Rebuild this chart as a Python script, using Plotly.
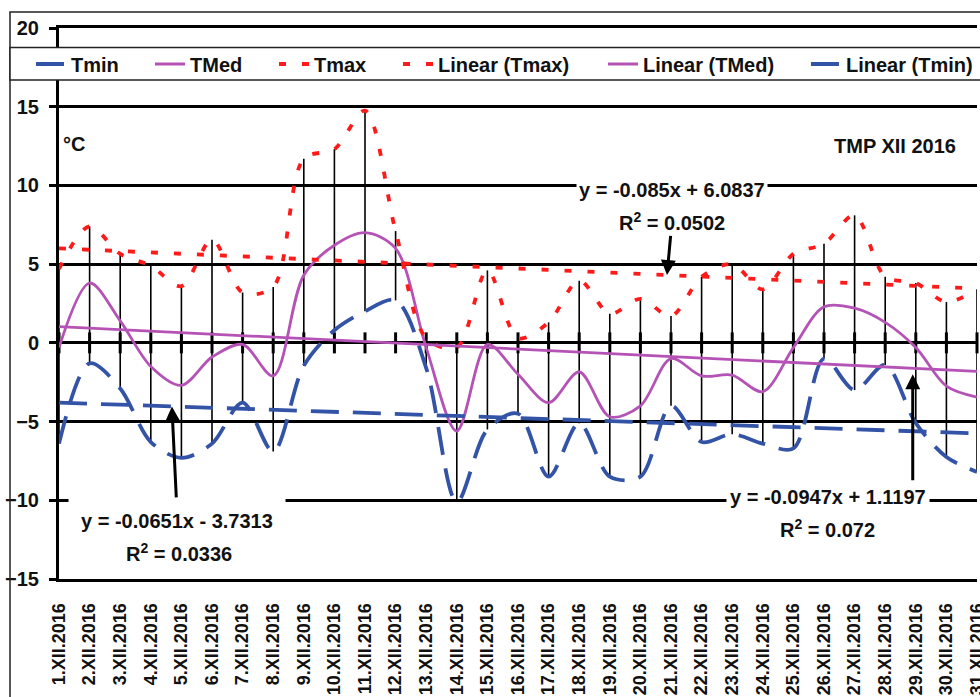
import plotly.graph_objects as go

# ---- data: daily temperatures, December 2016 (°C) ----
days = list(range(1, 32))
day_labels = [
    "1.XII.2016", "2.XII.2016", "3.XII.2016", "4.XII.2016", "5.XII.2016",
    "6.XII.2016", "7.XII.2016", "8.XII.2016", "9.XII.2016", "10.XII.2016",
    "11.XII.2016", "12.XII.2016", "13.XII.2016", "14.XII.2016", "15.XII.2016",
    "16.XII.2016", "17.XII.2016", "18.XII.2016", "19.XII.2016", "20.XII.2016",
    "21.XII.2016", "22.XII.2016", "23.XII.2016", "24.XII.2016", "25.XII.2016",
    "26.XII.2016", "27.XII.2016", "28.XII.2016", "29.XII.2016", "30.XII.2016",
    "31.XII.2016",
]
tmax = [4.7, 7.4, 5.65, 4.9, 3.6, 6.55, 3.2, 3.55, 11.7, 12.3, 14.75, 7.1, 0.3,
        -0.3, 4.6, 0.3, 1.3, 3.95, 1.85, 2.8, 1.7, 4.2, 5.0, 3.4, 5.65, 6.3,
        8.1, 4.2, 3.8, 2.6, 3.4]
tmed = [-0.3, 3.8, 1.4, -1.5, -2.7, -0.9, -0.1, -2.1, 4.3, 6.2, 7.0, 6.0, -0.3,
        -5.6, -0.1, -2.0, -3.8, -1.85, -4.7, -4.0, -1.0, -2.1, -2.05, -3.1,
        -0.3, 2.3, 2.2, 1.3, -0.3, -2.75, -3.45]
tmin = [-6.4, -1.3, -2.9, -6.3, -7.3, -6.4, -3.8, -6.9, -1.45, 0.8, 2.0, 2.7,
        -1.6, -10.1, -5.5, -4.5, -8.5, -5.1, -8.5, -8.5, -4.0, -6.3, -5.8,
        -6.4, -6.7, -1.0, -3.0, -1.4, -5.1, -7.25, -8.2]

# linear trend coefficients (slope, intercept) and R²
tmax_fit = (-0.085, 6.0837)
tmed_fit = (-0.0947, 1.1197)
tmin_fit = (-0.0651, -3.7313)
tmax_r2 = "0.0502"
tmed_r2 = "0.072"
tmin_r2 = "0.0336"

BLUE = "#3353a6"
MAGENTA = "#b552b5"
RED = "#ff1a1a"
FONT = "Liberation Sans, Arial, sans-serif"


def trend(fit, x):
    return fit[0] * x + fit[1]


def equation(fit):
    sign = "+" if fit[1] >= 0 else "-"
    return f"y = {fit[0]}x {sign} {abs(fit[1])}"


fig = go.Figure()

# daily high-low bars
hl_x, hl_y = [], []
for d, lo, hi in zip(days, tmin, tmax):
    hl_x += [d, d, None]
    hl_y += [lo, hi, None]
fig.add_trace(go.Scatter(x=hl_x, y=hl_y, mode="lines",
                         line=dict(color="black", width=1.6),
                         showlegend=False, hoverinfo="skip"))

# category tick marks crossing the 0 °C line
fig.add_trace(go.Scatter(x=days, y=[0] * len(days), mode="markers",
                         marker=dict(symbol="line-ns", size=15,
                                     line=dict(color="black", width=3)),
                         showlegend=False, hoverinfo="skip", cliponaxis=False))

fig.add_trace(go.Scatter(x=days, y=tmin, name="Tmin", mode="lines",
                         line=dict(color=BLUE, width=3.8, dash="28px,14px",
                                   shape="spline", smoothing=0.9),
                         legend="legend"))
fig.add_trace(go.Scatter(x=days, y=tmed, name="TMed", mode="lines",
                         line=dict(color=MAGENTA, width=2.8,
                                   shape="spline", smoothing=0.9),
                         legend="legend2"))
fig.add_trace(go.Scatter(x=days, y=tmax, name="Tmax", mode="lines",
                         line=dict(color=RED, width=3.8, dash="7px,16px",
                                   shape="spline", smoothing=0.9),
                         legend="legend3"))

trend_x = [days[0], days[-1]]
fig.add_trace(go.Scatter(x=trend_x, y=[trend(tmax_fit, v) for v in trend_x],
                         name="Linear (Tmax)", mode="lines",
                         line=dict(color=RED, width=3.8, dash="7px,16px"),
                         legend="legend4"))
fig.add_trace(go.Scatter(x=trend_x, y=[trend(tmed_fit, v) for v in trend_x],
                         name="Linear (TMed)", mode="lines",
                         line=dict(color=MAGENTA, width=2.8),
                         legend="legend5"))
fig.add_trace(go.Scatter(x=trend_x, y=[trend(tmin_fit, v) for v in trend_x],
                         name="Linear (Tmin)", mode="lines",
                         line=dict(color=BLUE, width=3.8, dash="28px,14px"),
                         legend="legend6"))

# ---- layout ----
PLOT_L, PLOT_W, PLOT_T, PLOT_H = 59, 918, 28, 551


def px_x(p):
    return (p - PLOT_L) / PLOT_W


def px_y(p):
    return 1 - (p - PLOT_T) / PLOT_H


legend_style = dict(orientation="h", yanchor="middle", y=px_y(64),
                    xanchor="left", bgcolor="rgba(0,0,0,0)",
                    font=dict(size=20, family=FONT, color="#111", weight="bold"),
                    itemclick=False)
legend_lefts = [31, 150, 274, 398, 603, 806]
legends = {}
for i, left in enumerate(legend_lefts):
    key = "legend" if i == 0 else f"legend{i + 1}"
    legends[key] = dict(legend_style, x=px_x(left))

fig.update_layout(
    width=980, height=697,
    margin=dict(l=PLOT_L, r=980 - PLOT_L - PLOT_W, t=PLOT_T, b=697 - PLOT_T - PLOT_H,
                autoexpand=False),
    paper_bgcolor="white", plot_bgcolor="white",
    font=dict(family=FONT, size=20, color="#111", weight="bold"),
    xaxis=dict(range=[1, 31], tickmode="array", tickvals=days,
               ticktext=day_labels, tickangle=-90,
               tickfont=dict(size=18, family=FONT, color="#111", weight="bold"),
               showgrid=False, zeroline=False, showline=True, mirror=True,
               linecolor="black", linewidth=3, ticks="",
               ticklabelstandoff=14, ticklabeloverflow="allow",
               automargin=False),
    yaxis=dict(range=[-15, 20], tick0=0, dtick=5, showgrid=True,
               gridcolor="black", gridwidth=3, zeroline=True,
               zerolinecolor="black", zerolinewidth=3, showline=True,
               linecolor="black", linewidth=3, ticks="outside", ticklen=7,
               tickwidth=3, tickcolor="black", ticklabelstandoff=6,
               automargin=False),
    **legends,
)

# outer frame and the legend band
fig.add_shape(type="rect", xref="paper", yref="paper",
              x0=px_x(10), x1=1.2, y0=-0.5, y1=px_y(12),
              line=dict(color="#222", width=1.5), fillcolor="rgba(0,0,0,0)",
              layer="above")
fig.add_shape(type="rect", xref="paper", yref="paper",
              x0=px_x(10), x1=1.2, y0=px_y(80), y1=px_y(47.5),
              line=dict(color="#222", width=1.5), fillcolor="white",
              layer="above")

label_font = dict(size=20, family=FONT, color="#111", weight="bold")
arrow_style = dict(showarrow=True, axref="x", ayref="y", arrowhead=2,
                   arrowsize=1, arrowwidth=3, arrowcolor="black")
ann = []
ann.append(dict(text="°C", xref="paper", x=px_x(61), xanchor="left",
                yref="y", y=12.64, showarrow=False, font=label_font))
ann.append(dict(text="TMP XII 2016", xref="paper", x=px_x(958), xanchor="right",
                yref="y", y=12.5, showarrow=False, font=label_font))

# Tmax trend: equation, R² with an arrow down to the trend line
ann.append(dict(text=equation(tmax_fit), x=21.03, y=9.72, showarrow=False,
                bgcolor="white", borderpad=2, font=label_font))
ann.append(dict(arrow_style, text=f"R<sup>2</sup> = {tmax_r2}",
                x=20.87, y=trend(tmax_fit, 20.87), ax=21.03, ay=7.69,
                font=label_font))

# Tmin trend: equation with an arrow up to the trend line, then R²
ann.append(dict(arrow_style, text=equation(tmin_fit),
                x=4.69, y=trend(tmin_fit, 4.69), ax=4.87, ay=-11.31,
                bgcolor="white", borderpad=12, font=label_font))
ann.append(dict(text=f"R<sup>2</sup> = {tmin_r2}", x=4.92, y=-13.34,
                showarrow=False, font=label_font))

# TMed trend: equation, R² and a separate vertical arrow
ann.append(dict(text=equation(tmed_fit), x=26.13, y=-9.78, showarrow=False,
                bgcolor="white", borderpad=3, font=label_font))
ann.append(dict(text=f"R<sup>2</sup> = {tmed_r2}", x=26.13, y=-11.82,
                showarrow=False, font=label_font))
ann.append(dict(arrow_style, text="", x=28.9, y=trend(tmed_fit, 28.9),
                ax=28.9, ay=-8.83, standoff=6))
fig.update_layout(annotations=ann)

fig.write_html("out.html")
